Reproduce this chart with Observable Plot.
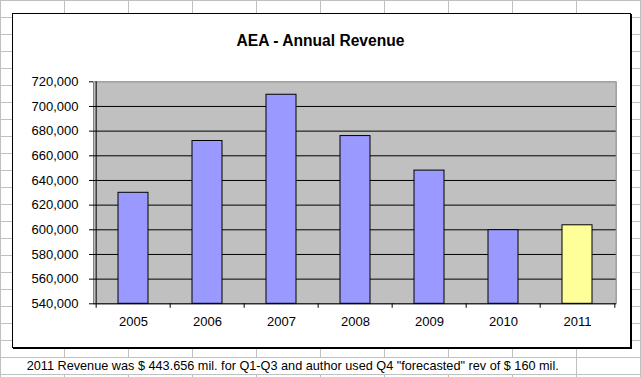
<!DOCTYPE html>
<html>
<head>
<meta charset="utf-8">
<script src="https://cdn.jsdelivr.net/npm/d3@7"></script>
<script src="https://cdn.jsdelivr.net/npm/@observablehq/plot@0.6"></script>
<style>
  html, body { margin: 0; padding: 0; background: #fff; }
  #sheet {
    position: relative; width: 641px; height: 377px; overflow: hidden;
    background-color: #fff;
    background-image:
      linear-gradient(to right, #c0c0c0 1px, transparent 1px),
      linear-gradient(to bottom, #c0c0c0 1px, transparent 1px);
    background-size: 64px 17px;
    font-family: "Liberation Sans", Arial, sans-serif;
  }
  #box {
    position: absolute; left: 12px; top: 13px; width: 619px; height: 335px;
    box-sizing: border-box; border: 1px solid #000; background: #fff;
    box-shadow: 1px 1px 0 #000;
  }
  #plot { position: absolute; left: 0; top: 0; }
  #title {
    position: absolute; left: 0; top: 32.6px; width: 641px; text-align: center;
    font-weight: bold; font-size: 15.6px; line-height: 16px; color: #000;
  }
  #caption {
    position: absolute; left: 1px; top: 358px; width: 575px; height: 16px;
    background: #fff; box-sizing: border-box; padding-left: 25.7px;
    font-size: 12.7px; line-height: 17px; color: #000; white-space: nowrap; overflow: visible;
  }
</style>
</head>
<body>
<div id="sheet">
  <div id="box"></div>
  <div id="plot"></div>
  <div id="title">AEA - Annual Revenue</div>
  <div id="caption">2011 Revenue was $ 443.656 mil. for Q1-Q3 and author used Q4 "forecasted" rev of $ 160 mil.</div>
</div>
<script>
const years = ["2005", "2006", "2007", "2008", "2009", "2010", "2011"];
const revenue = [630000, 672000, 709500, 676000, 648000, 599700, 603656];
const barColors = ["#9999ff", "#9999ff", "#9999ff", "#9999ff", "#9999ff", "#9999ff", "#ffff99"];
const yTicks = [540000, 560000, 580000, 600000, 620000, 640000, 660000, 680000, 700000, 720000];
const gridTicks = [560000, 580000, 600000, 620000, 640000, 660000, 680000, 700000];

const data = years.map((y, i) => ({year: y, value: revenue[i], color: barColors[i]}));

const W = 641, H = 377;
const mL = 93, mR = 25.3, mT = 81.3, mB = 73.7;
const step = (W - mL - mR) / years.length;

const chart = Plot.plot({
  width: W,
  height: H,
  marginLeft: mL,
  marginRight: mR,
  marginTop: mT,
  marginBottom: mB,
  style: {background: "transparent", fontFamily: "'Liberation Sans', Arial, sans-serif", fontSize: "13px", color: "#000", overflow: "visible"},
  x: {type: "band", domain: years, paddingInner: 0.6, paddingOuter: 0.3},
  y: {domain: [540000, 720000]},
  color: {type: "identity"},
  marks: [
    Plot.frame({fill: "#c0c0c0", stroke: "#808080"}),
    Plot.ruleY(gridTicks, {stroke: "#000"}),
    Plot.barY(data, {x: "year", y1: 540000, y2: "value", fill: "color", stroke: "#000", strokeWidth: 1}),
    Plot.ruleY([540000], {stroke: "#000"}),
    Plot.ruleX([years[0]], {dx: -step / 2, stroke: "#000"}),
    Plot.ruleX(years, {x: d => d, dx: -step / 2, y1: 540000, y2: 540000, insetBottom: -4.5, stroke: "#000"}),
    Plot.ruleX([years[years.length - 1]], {x: d => d, dx: step / 2, y1: 540000, y2: 540000, insetBottom: -4.5, stroke: "#000"}),
    Plot.axisY({ticks: yTicks, tickFormat: d3.format(","), tickSize: 4, tickPadding: 11, label: null, fontSize: 13}),
    Plot.axisX({tickSize: 0, tickPadding: 13, label: null, fontSize: 13})
  ]
});
document.getElementById("plot").appendChild(chart);
</script>
</body>
</html>
